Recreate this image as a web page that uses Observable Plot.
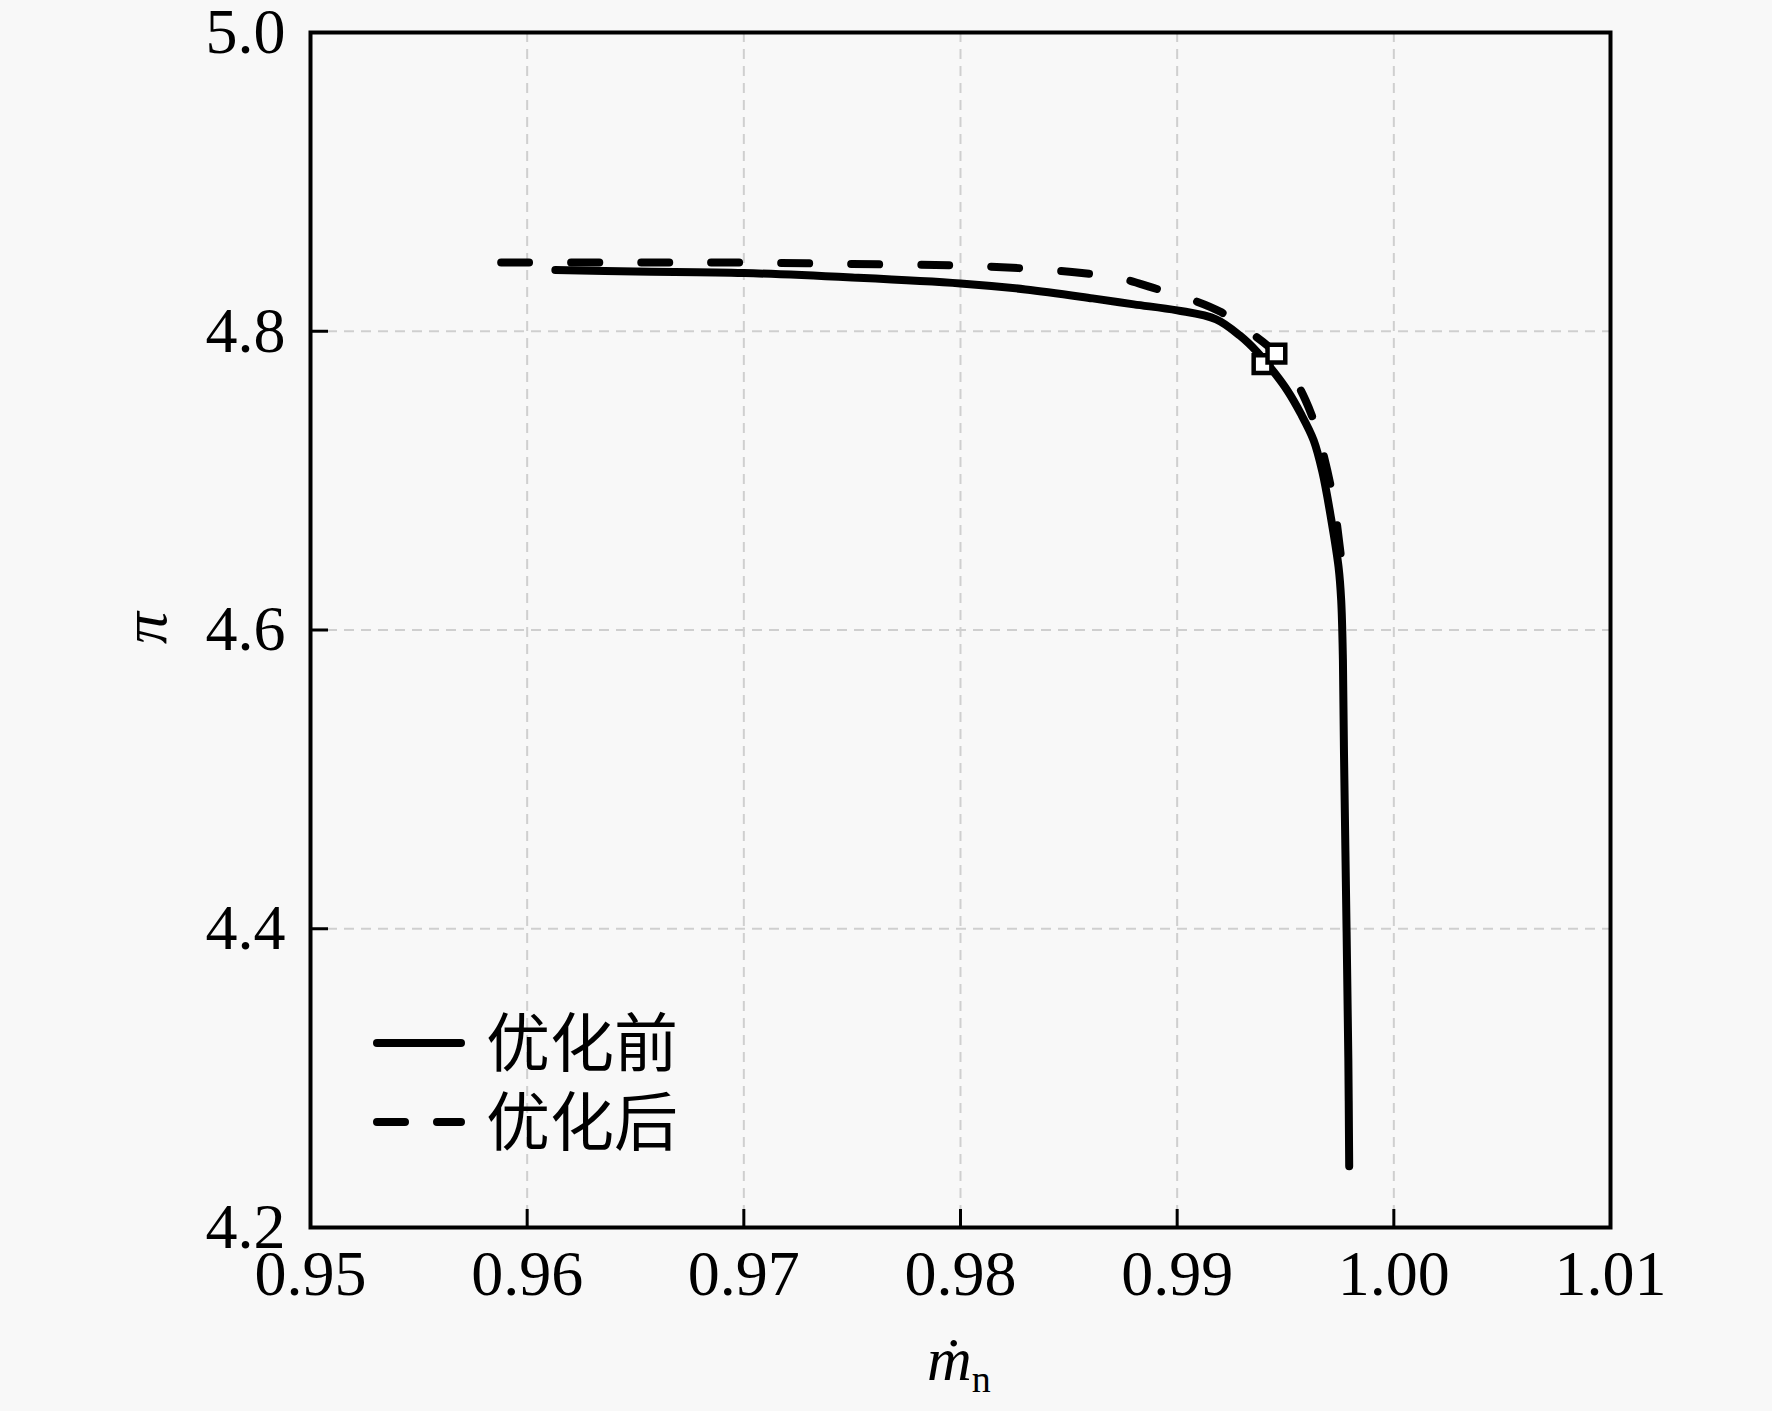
<!DOCTYPE html>
<html>
<head>
<meta charset="utf-8">
<script src="https://cdn.jsdelivr.net/npm/d3@7"></script>
<script src="https://cdn.jsdelivr.net/npm/@observablehq/plot@0.6"></script>
<style>
  html, body { margin: 0; padding: 0; background: #f8f8f8; }
  #chart { width: 1772px; height: 1411px; }
</style>
</head>
<body>
<div id="chart"></div>
<script>
// ---- data ----
const xTicks = [0.95, 0.96, 0.97, 0.98, 0.99, 1.00, 1.01];
const yTicks = [4.2, 4.4, 4.6, 4.8, 5.0];
const xGrid = [0.96, 0.97, 0.98, 0.99, 1.00];
const yGrid = [4.4, 4.6, 4.8];

const seriesNames = ["优化前", "优化后"];

// 优化前 (before optimisation) – solid
const beforeX = [0.9613, 0.9650, 0.9700, 0.9750, 0.9800, 0.9830, 0.9861, 0.9880, 0.9900, 0.9918, 0.9929, 0.9937, 0.9945, 0.9951, 0.9957, 0.9963, 0.9967, 0.9971, 0.99745, 0.99757, 0.99765, 0.99770, 0.99782, 0.99790, 0.99794];
const beforeY = [4.841, 4.840, 4.839, 4.836, 4.832, 4.828, 4.822, 4.818, 4.814, 4.808, 4.797, 4.786, 4.772, 4.760, 4.745, 4.727, 4.706, 4.675, 4.642, 4.620, 4.580, 4.517, 4.398, 4.313, 4.241];

// 优化后 (after optimisation) – dashed
const afterX = [0.9588, 0.9650, 0.9700, 0.9750, 0.9800, 0.9830, 0.9856, 0.9875, 0.9889, 0.9905, 0.9920, 0.9933, 0.99458, 0.9953, 0.99592, 0.99635, 0.99671, 0.99721, 0.99758, 0.99777];
const afterY = [4.846, 4.846, 4.846, 4.845, 4.844, 4.842, 4.839, 4.835, 4.829, 4.822, 4.813, 4.800, 4.785, 4.771, 4.754, 4.738, 4.720, 4.687, 4.647, 4.627];

// design points (open squares)
const markX = [0.99394, 0.99458];
const markY = [4.778, 4.785];

// ---- build tables ----
const before = beforeX.map((x, i) => ({x, y: beforeY[i]}));
const after = afterX.map((x, i) => ({x, y: afterY[i]}));
const marks = markX.map((x, i) => ({x, y: markY[i], s: seriesNames[i]}));

const W = 1772, H = 1411, mL = 310, mR = 162, mT = 32, mB = 184;
const innerW = W - mL - mR, innerH = H - mT - mB;
const serif = "'Liberation Serif', 'Times New Roman', serif";
const cjk = "'Noto Sans CJK SC', sans-serif";

const svg = Plot.plot({
  width: W, height: H,
  marginLeft: mL, marginRight: mR, marginTop: mT, marginBottom: mB,
  style: {background: "#f8f8f8", fontFamily: serif, color: "#000", overflow: "visible"},
  x: {domain: [0.95, 1.01]},
  y: {domain: [4.2, 5.0]},
  marks: [
    Plot.gridX(xGrid, {stroke: "#cfcfcf", strokeOpacity: 1, strokeWidth: 2, strokeDasharray: "10,7"}),
    Plot.gridY(yGrid, {stroke: "#cfcfcf", strokeOpacity: 1, strokeWidth: 2, strokeDasharray: "10,7"}),
    Plot.line(before, {x: "x", y: "y", stroke: "#000", strokeWidth: 8, curve: "catmull-rom"}),
    Plot.line(after, {x: "x", y: "y", stroke: "#000", strokeWidth: 8, curve: "catmull-rom", strokeDasharray: "28,42", strokeLinecap: "round"}),
    Plot.dot(marks, {x: "x", y: "y", symbol: "square", r: 10, fill: "#fff", stroke: "#000", strokeWidth: 4.5}),
    Plot.ruleX(xTicks, {insetTop: innerH - 18, stroke: "#000", strokeWidth: 3}),
    Plot.ruleY(yTicks, {insetRight: innerW - 18, stroke: "#000", strokeWidth: 3}),
    Plot.axisX(xTicks, {tickSize: 0, tickPadding: 22, fontSize: 64, tickFormat: d3.format(".2f"), label: null}),
    Plot.axisY(yTicks, {tickSize: 0, tickPadding: 25, fontSize: 64, tickFormat: d3.format(".1f"), label: null}),
    Plot.frame({stroke: "#000", strokeWidth: 4}),
    Plot.text(["π"], {frameAnchor: "left", dx: -165, dy: 14, rotate: -90, fontSize: 64, fontStyle: "italic", fill: "#000"})
  ]
});

const s = d3.select(svg);

// x-axis label: m-dot with subscript n
const xl = s.append("text")
  .attr("x", 927).attr("y", 1380)
  .attr("text-anchor", "start")
  .attr("font-family", serif).attr("fill", "#000");
xl.append("tspan").attr("font-size", 62).attr("font-style", "italic").text("ṁ");
xl.append("tspan").attr("font-size", 38).attr("dy", 12).text("n");

// legend (inside plot, lower left)
const legend = [
  {name: seriesNames[0], y: 1043, dash: null},
  {name: seriesNames[1], y: 1122, dash: "28,32"}
];
const lg = s.append("g").attr("text-anchor", "start");
legend.forEach(d => {
  lg.append("line")
    .attr("x1", 377).attr("x2", 461).attr("y1", d.y).attr("y2", d.y)
    .attr("stroke", "#000").attr("stroke-width", 8)
    .attr("stroke-linecap", "round")
    .attr("stroke-dasharray", d.dash);
  lg.append("text")
    .attr("x", 486).attr("y", d.y).attr("dy", "0.36em")
    .attr("text-anchor", "start")
    .attr("font-family", cjk).attr("font-size", 64).attr("fill", "#000")
    .text(d.name);
});

document.getElementById("chart").appendChild(svg);
</script>
</body>
</html>
